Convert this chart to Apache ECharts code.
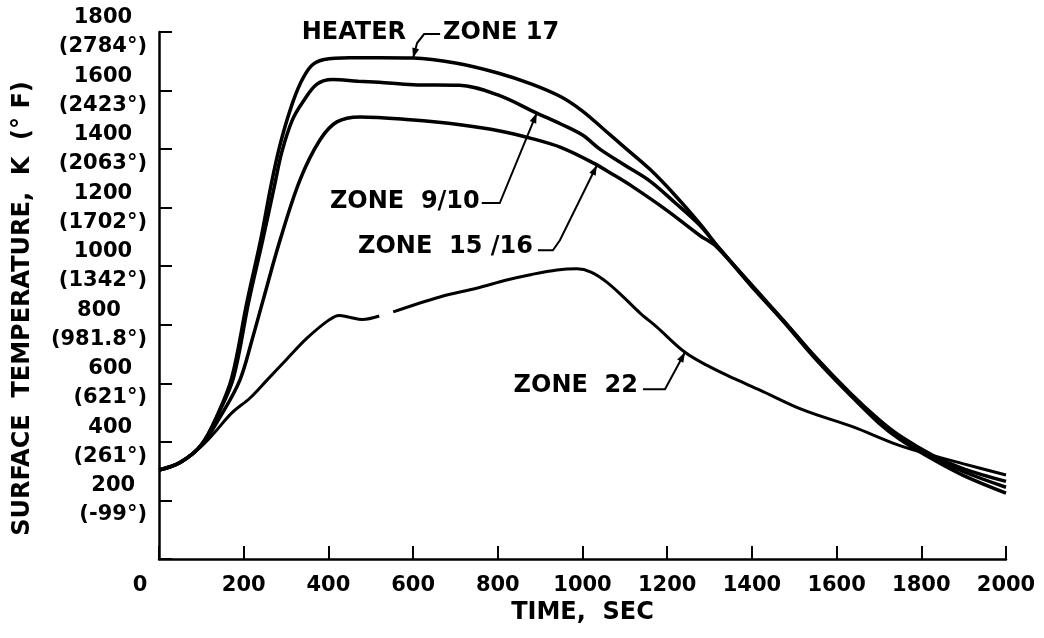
<!DOCTYPE html>
<html>
<head>
<meta charset="utf-8">
<script src="https://cdn.jsdelivr.net/npm/echarts@6/dist/echarts.min.js"></script>
<style>
    html, body { margin: 0; padding: 0; background: #fff; }
    #chart { width: 1044px; height: 638px; }
</style>
</head>
<body>
<div id="chart"></div>
<script>
// temperature in K vs time in seconds
var heaterZone17 = [[0,304],[50,330],[100,390],[140,499],[172,620],[208,880],[240,1090],[265,1280],[285,1410],[310,1535],[335,1628],[360,1685],[390,1706],[450,1712],[520,1712],[600,1711],[700,1694],[800,1660],[880,1622],[950,1578],[1000,1530],[1050,1468],[1100,1405],[1160,1330],[1220,1240],[1280,1140],[1320,1066],[1400,935],[1474,816],[1550,690],[1632,567],[1700,476],[1750,420],[1830,352],[1900,308],[2000,265]];
var zone910 = [[0,304],[50,330],[100,390],[140,496],[176,620],[212,880],[245,1090],[272,1270],[290,1390],[315,1500],[340,1562],[373,1622],[410,1638],[470,1632],[520,1628],[600,1620],[710,1618],[800,1585],[892,1523],[950,1485],[1000,1448],[1041,1400],[1100,1345],[1160,1290],[1220,1215],[1277,1140],[1320,1066],[1400,933],[1474,814],[1550,688],[1632,564],[1700,470],[1750,414],[1830,346],[1900,298],[2000,245]];
var zone1516 = [[0,304],[50,330],[100,388],[150,499],[191,611],[220,750],[246,885],[286,1090],[333,1295],[380,1431],[420,1493],[475,1510],[593,1500],[711,1483],[805,1462],[883,1435],[950,1405],[1025,1353],[1070,1315],[1119,1271],[1200,1190],[1277,1105],[1317,1066],[1400,930],[1474,812],[1550,684],[1632,560],[1700,464],[1750,408],[1830,338],[1900,285],[2000,225]];
var zone22 = [[0,304],[50,330],[100,385],[130,430],[172,499],[215,550],[255,611],[300,680],[350,755],[400,815],[425,832],[450,826],[480,818],[520,830],[535,null],[553,844],[663,895],[750,925],[821,953],[880,972],[940,987],[987,991],[1020,980],[1058,945],[1100,890],[1136,840],[1175,793],[1242,706],[1301,656],[1360,615],[1419,577],[1521,509],[1639,451],[1733,396],[1797,366],[1900,325],[2000,287]];

var xTicks = [0, 200, 400, 600, 800, 1000, 1200, 1400, 1600, 1800, 2000];
var kTicks = [200, 400, 600, 800, 1000, 1200, 1400, 1600, 1800];
var fTicks = ['(-99°)', '(261°)', '(621°)', '(981.8°)', '(1342°)', '(1702°)', '(2063°)', '(2423°)', '(2784°)'];

var FONT = '"DejaVu Sans", sans-serif';

var chart = echarts.init(document.getElementById('chart'));

function lineSeries(name, data, width) {
    return {
        name: name,
        type: 'line',
        data: data,
        showSymbol: false,
        smooth: 0.35,
        connectNulls: false,
        lineStyle: { color: '#000', width: width },
        z: 3
    };
}

var option = {
    backgroundColor: '#fff',
    animation: false,
    grid: { left: 159, right: 38, top: 32, bottom: 79, containLabel: false, outerBoundsMode: 'none' },
    xAxis: {
        type: 'value',
        min: xTicks[0],
        max: xTicks[xTicks.length - 1],
        interval: 200,
        name: 'TIME,  SEC',
        nameLocation: 'middle',
        nameGap: 40,
        nameTextStyle: { color: '#000', fontFamily: FONT, fontWeight: 'bold', fontSize: 24 },
        axisLine: { lineStyle: { color: '#000', width: 2.5 } },
        axisTick: { inside: true, length: 13, lineStyle: { color: '#000', width: 2 } },
        splitLine: { show: false },
        axisLabel: {
            margin: 16,
            color: '#000',
            fontFamily: FONT,
            fontWeight: 'bold',
            fontSize: 21,
            formatter: function (v) {
                if (v === 0) return '{z|0}';
                return v;
            },
            rich: {
                z: { fontFamily: FONT, fontWeight: 'bold', fontSize: 21, color: '#000', padding: [0, 38, 0, 0] }
            }
        }
    },
    yAxis: {
        type: 'value',
        min: 0,
        max: 1800,
        interval: 200,
        name: 'SURFACE  TEMPERATURE,  K  (° F)',
        nameLocation: 'middle',
        nameGap: 124,
        nameTextStyle: { color: '#000', fontFamily: FONT, fontWeight: 'bold', fontSize: 24, padding: [0, 26, 0, 0] },
        axisLine: { lineStyle: { color: '#000', width: 2.5 } },
        axisTick: { inside: true, length: 13, lineStyle: { color: '#000', width: 2 } },
        splitLine: { show: false },
        axisLabel: {
            margin: 12,
            formatter: function (v) {
                var i = kTicks.indexOf(v);
                if (i < 0) return '';
                return '{k|' + v + '}\n{f|' + fTicks[i] + '}';
            },
            rich: {
                k: { fontFamily: FONT, fontWeight: 'bold', fontSize: 21, color: '#000', align: 'center', lineHeight: 29 },
                f: { fontFamily: FONT, fontWeight: 'bold', fontSize: 21, color: '#000', align: 'center', lineHeight: 29 }
            }
        }
    },
    series: [
        lineSeries('HEATER ZONE 17', heaterZone17, 3.5),
        lineSeries('ZONE 9/10', zone910, 3.5),
        lineSeries('ZONE 15/16', zone1516, 3.5),
        lineSeries('ZONE 22', zone22, 3)
    ]
};
chart.setOption(option);

// callouts: arrow tips sit on the curves, text and elbows are offsets from the tip
function toPx(pt) {
    return chart.convertToPixel({ gridIndex: 0 }, pt);
}

function callout(tipData, bends, texts) {
    var tip = toPx(tipData);
    var pts = [tip].concat(bends.map(function (b) { return [tip[0] + b[0], tip[1] + b[1]]; }));
    var dx = pts[1][0] - tip[0], dy = pts[1][1] - tip[1];
    var len = Math.sqrt(dx * dx + dy * dy);
    dx /= len; dy /= len;
    var bx = tip[0] + dx * 10, by = tip[1] + dy * 10;
    var els = [
        { type: 'polyline', shape: { points: pts }, style: { stroke: '#000', lineWidth: 2, fill: null }, z: 10 },
        { type: 'polygon', shape: { points: [tip, [bx - dy * 3.5, by + dx * 3.5], [bx + dy * 3.5, by - dx * 3.5]] }, style: { fill: '#000' }, z: 10 }
    ];
    texts.forEach(function (t) {
        els.push({
            type: 'text',
            x: tip[0] + t.dx,
            y: tip[1] + t.dy,
            style: { text: t.text, font: 'bold 24px ' + FONT, fill: '#000', align: t.align, verticalAlign: 'middle' },
            z: 10
        });
    });
    return els;
}

var graphics = []
    .concat(callout([600, 1711], [[4, -15], [11, -24], [27, -24]], [
        { text: 'HEATER', dx: -7, dy: -25, align: 'right' },
        { text: 'ZONE 17', dx: 30, dy: -25, align: 'left' }
    ]))
    .concat(callout([892, 1523], [[-37, 90], [-55, 90]], [
        { text: 'ZONE  9/10', dx: -57, dy: 89, align: 'right' }
    ]))
    .concat(callout([1034, 1345], [[-37, 75], [-44, 85], [-59, 85]], [
        { text: 'ZONE  15 /16', dx: -64, dy: 82, align: 'right' }
    ]))
    .concat(callout([1242, 706], [[-20, 37], [-42, 37]], [
        { text: 'ZONE  22', dx: -47, dy: 33, align: 'right' }
    ]));

chart.setOption({ graphic: graphics });
</script>
</body>
</html>
